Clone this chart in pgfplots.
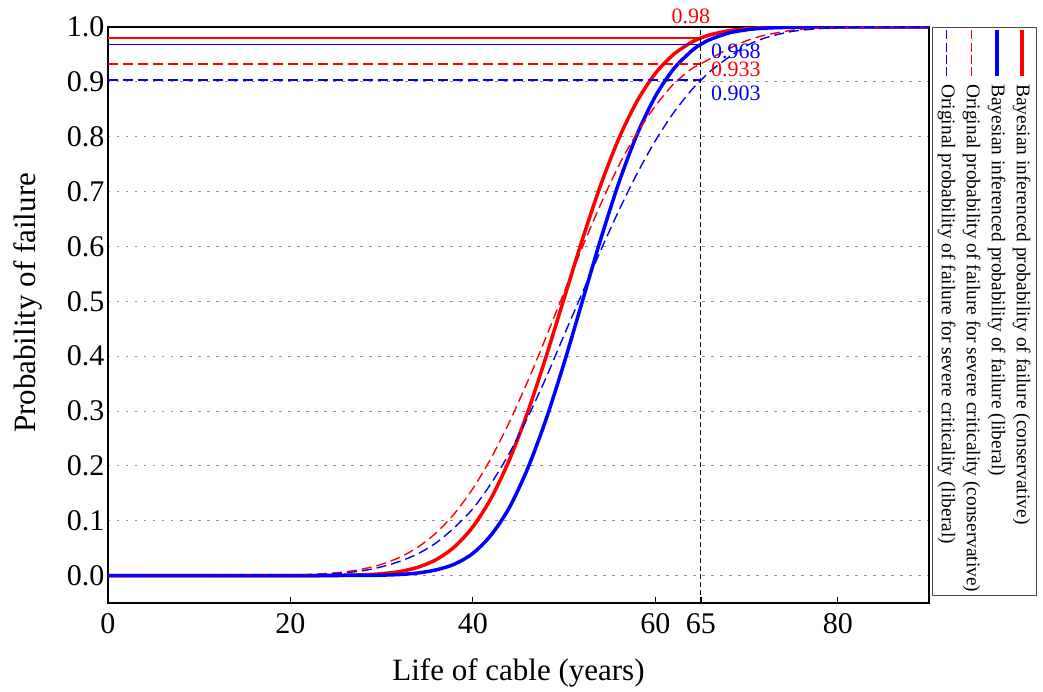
\documentclass[border=0pt]{standalone}
\usepackage{fontspec}
\setmainfont{Liberation Serif}
\usepackage{pgfplots}
\pgfplotsset{compat=1.18}
\usepackage{pgfplotstable}

\newcommand\solidsample[1]{\textcolor{#1}{\rule[\dimexpr0.25em-1.75pt\relax]{46pt}{3.5pt}}\hspace{8pt}}
\newcommand\dashsample[1]{\textcolor{#1}{\rule[\dimexpr0.25em-0.7pt\relax]{9pt}{1.4pt}\hspace{3.33pt}\rule[\dimexpr0.25em-0.7pt\relax]{9pt}{1.4pt}\hspace{3.33pt}\rule[\dimexpr0.25em-0.7pt\relax]{9pt}{1.4pt}\hspace{3.33pt}\rule[\dimexpr0.25em-0.7pt\relax]{9pt}{1.4pt}}\hspace{8pt}}

\pgfplotstableread{
x y
0 0
20 0
25 0.0004
28 0.0014
30 0.0034
32 0.0074
34 0.0153
36 0.0293
38 0.0527
40 0.0890
42 0.1412
44 0.2110
46 0.2978
48 0.3979
50 0.5054
52 0.6125
54 0.7115
56 0.7967
58 0.8648
60 0.9153
62 0.9501
64 0.9725
65 0.9800
66 0.9857
68 0.9931
70 0.9969
72 0.9987
75 0.9997
80 1.0
90 1.0
}\rs

\pgfplotstableread{
x y
0 0
20 0
28 0.0003
30 0.0008
32 0.0020
34 0.0048
36 0.0105
38 0.0210
40 0.0405
42 0.0740
44 0.1240
46 0.1950
48 0.2839
50 0.3875
52 0.5000
54 0.6125
56 0.7161
58 0.8043
60 0.8735
62 0.9234
64 0.9567
65 0.9684
66 0.9772
68 0.9889
70 0.9949
72 0.9979
75 0.9995
80 1.0
90 1.0
}\bs

\pgfplotstableread{
x y
0 0
20 0.0010
22 0.0020
24 0.0038
26 0.0068
28 0.0122
30 0.0206
32 0.0334
34 0.0521
36 0.0783
38 0.1135
40 0.1587
42 0.2142
44 0.2799
46 0.3538
48 0.4337
50 0.5166
52 0.5987
54 0.6766
56 0.7475
58 0.8070
60 0.8560
62 0.8960
64 0.9240
65 0.9330
66 0.9420
68 0.9600
70 0.9750
72 0.9850
75 0.9940
78 0.9980
80 0.9990
85 1.0
90 1.0
}\rd

\pgfplotstableread{
x y
0 0
20 0.0008
22 0.0015
24 0.0028
26 0.0050
28 0.0090
30 0.0160
32 0.0260
34 0.0400
36 0.0600
38 0.0880
40 0.1220
42 0.1680
44 0.2230
46 0.2880
48 0.3600
50 0.4384
52 0.5155
54 0.5922
56 0.6654
58 0.7327
60 0.7926
62 0.8437
64 0.8857
65 0.9030
66 0.9190
68 0.9443
70 0.9660
72 0.9800
75 0.9920
78 0.9970
80 0.9990
85 1.0
90 1.0
}\bd

\begin{document}
\begin{tikzpicture}
\path[use as bounding box] (-108pt,-88pt) rectangle (935pt,603pt);
\begin{axis}[
  at={(0pt,0pt)}, anchor=south west,
  scale only axis, width=821pt, height=576pt,
  xmin=0, xmax=90, ymin=-0.05, ymax=1.0,
  xtick={0,20,40,60,65,80},
  ytick={0,0.1,0.2,0.3,0.4,0.5,0.6,0.7,0.8,0.9,1.0},
  /pgf/number format/assume math mode=true,
  yticklabel style={/pgf/number format/.cd, fixed, fixed zerofill, precision=1},
  xticklabel style={yshift=-7pt},
  tick label style={font=\fontsize{30pt}{30pt}\selectfont, black},
  label style={font=\fontsize{31pt}{31pt}\selectfont},
  xlabel={Life of cable (years)},
  ylabel={Probability of failure},
  xlabel style={at={(axis description cs:0.5,0)}, anchor=base, yshift=-77pt},
  ylabel style={at={(axis description cs:-0.0889,0.521)}, anchor=base},
  tick align=inside,
  xtick pos=bottom,
  major tick length=6pt,
  xtick style={line width=1.2pt, black},
  ytick style={draw=none},
  axis line style={line width=2.5pt, black},
  ymajorgrids,
  grid style={gray!85, line width=1pt, dash pattern=on 2.5pt off 6.5pt},
  clip mode=individual,
]
\addplot[red, line width=3.5pt, smooth] table[x=x,y=y] {\rs};
\addplot[blue, line width=3.5pt, smooth] table[x=x,y=y] {\bs};
\addplot[red, line width=1.4pt, smooth, dash pattern=on 10pt off 5pt] table[x=x,y=y] {\rd};
\addplot[blue, line width=1.4pt, smooth, dash pattern=on 10pt off 5pt] table[x=x,y=y] {\bd};

\addplot[red, line width=2.5pt] coordinates {(0,0.98) (65,0.98)};
\addplot[blue, line width=1.4pt] coordinates {(0,0.968) (65,0.968)};
\addplot[red, line width=1.5pt, dash pattern=on 10pt off 5pt] coordinates {(0,0.933) (65,0.933)};
\addplot[blue, line width=1.5pt, dash pattern=on 10pt off 5pt] coordinates {(0,0.903) (65,0.903)};
\addplot[black, line width=1pt, dash pattern=on 5pt off 3pt] coordinates {(65,-0.05) (65,1.0)};

\node[red, inner sep=0pt, font=\fontsize{22pt}{22pt}\selectfont] at (axis cs:63.9,1.019) {0.98};
\node[blue, inner sep=0pt, anchor=west, font=\fontsize{22pt}{22pt}\selectfont] at (axis cs:66.1,0.955) {0.968};
\node[red, inner sep=0pt, anchor=west, font=\fontsize{22pt}{22pt}\selectfont] at (axis cs:66.1,0.923) {0.933};
\node[blue, inner sep=0pt, anchor=west, font=\fontsize{22pt}{22pt}\selectfont] at (axis cs:66.1,0.879) {0.903};
\coordinate (tr) at (rel axis cs:1,1);
\end{axis}
\node[rotate=-90, anchor=south west, draw=black!70, line width=0.8pt, fill=white,
      inner xsep=3pt, inner ysep=2pt, font=\fontsize{19.4pt}{25pt}\selectfont]
  at ([xshift=3pt]tr) {%
  \begin{tabular}{@{}l@{}}
  \solidsample{red}Bayesian inferenced probability of failure (conservative)\\
  \solidsample{blue}Bayesian inferenced probability of failure (liberal)\\
  \dashsample{red}Original probability of failure for severe criticality (conservative)\\
  \dashsample{blue}Original probability of failure for severe criticality (liberal)
  \end{tabular}};
\end{tikzpicture}
\end{document}
